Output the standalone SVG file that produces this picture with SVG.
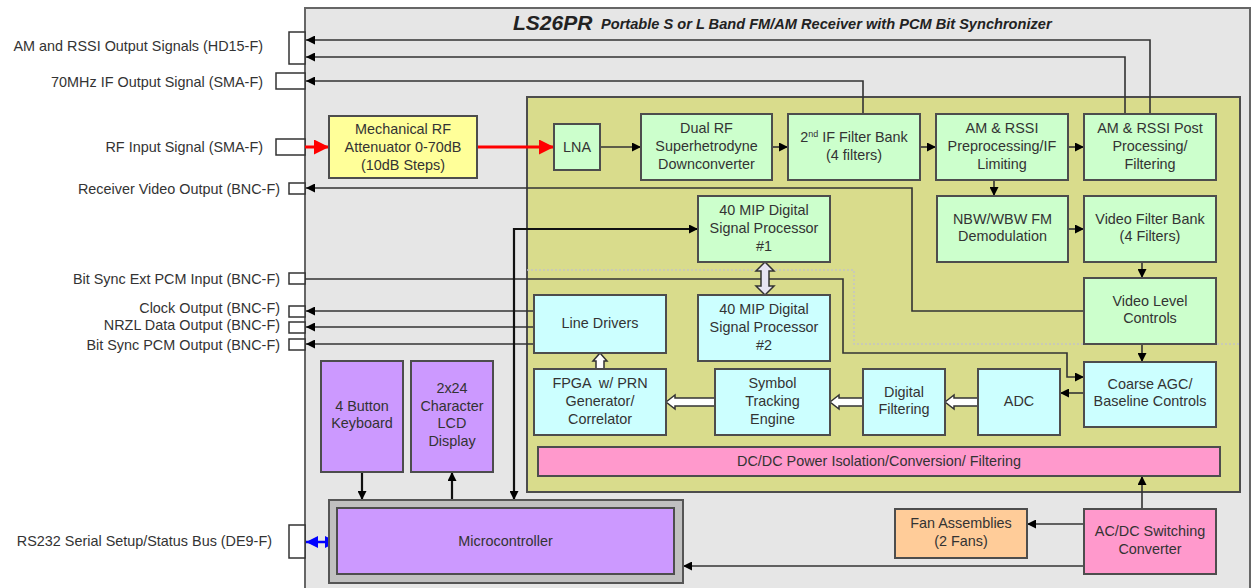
<svg xmlns="http://www.w3.org/2000/svg" width="1254" height="588" viewBox="0 0 1254 588">
<defs>
<style>
text{font-family:"Liberation Sans",Arial,sans-serif;font-size:14.4px;fill:#333;}
.c{text-anchor:middle;}
.e{text-anchor:end;}
.box{stroke:#4d4d4d;stroke-width:2;}
.g{fill:#ccffcc;}
.cy{fill:#ccffff;}
.y{fill:#ffff99;}
.pk{fill:#ff99cc;}
.or{fill:#ffcc99;}
.pu{fill:#cc99ff;}
.con{fill:#fff;stroke:#333;stroke-width:1.5;}
.ln{fill:none;stroke:#333;stroke-width:1.6;}
.lk{fill:none;stroke:#111;stroke-width:2.2;}
.ba{stroke:#333;stroke-width:1.5;}
</style>
<marker id="ah" viewBox="0 0 10 10" refX="10" refY="5" markerWidth="10" markerHeight="9" markerUnits="userSpaceOnUse" orient="auto-start-reverse"><path d="M0,0 L10,5 L0,10 z" fill="#000"/></marker>
<marker id="ahr" viewBox="0 0 10 10" refX="10" refY="5" markerWidth="18" markerHeight="15" markerUnits="userSpaceOnUse" orient="auto-start-reverse"><path d="M0,0 L10,5 L0,10 z" fill="#ff0000"/></marker>
<marker id="ahb" viewBox="0 0 10 10" refX="10" refY="5" markerWidth="12" markerHeight="12" markerUnits="userSpaceOnUse" orient="auto-start-reverse"><path d="M0,0 L10,5 L0,10 z" fill="#0000ff"/></marker>
</defs>
<rect width="1254" height="588" fill="#fff"/>

<g id="chassis">
<rect x="305" y="8" width="945" height="584" fill="#e6e6e6" stroke="#666" stroke-width="2"/>
<text x="513" y="30" style="font-size:21px;font-weight:bold;font-style:italic;fill:#222">LS26PR</text>
<text x="601" y="29" style="font-size:14.6px;font-weight:bold;font-style:italic;fill:#222">Portable S or L Band FM/AM Receiver with PCM Bit Synchronizer</text>
</g>

<g id="receiver-board">
<rect x="527" y="97" width="713" height="395" fill="#d9dc8c" stroke="#4d4d4d" stroke-width="2"/>
<path d="M527,270 H854 V344 H1240" fill="none" stroke="#c4c4c4" stroke-width="1.5" stroke-dasharray="2 2"/>
</g>

<g id="ports">
<rect class="con" x="289" y="32" width="16" height="32"/>
<text class="e" x="263" y="51">AM and RSSI Output Signals (HD15-F)</text>
<rect class="con" x="276" y="73" width="29" height="16"/>
<text class="e" x="263" y="87">70MHz IF Output Signal (SMA-F)</text>
<rect class="con" x="276" y="139" width="29" height="16"/>
<text class="e" x="263" y="152">RF Input Signal (SMA-F)</text>
<rect class="con" x="289" y="183" width="16" height="11"/>
<text class="e" x="280" y="194">Receiver Video Output (BNC-F)</text>
<rect class="con" x="289" y="273" width="16" height="11"/>
<text class="e" x="280" y="284">Bit Sync Ext PCM Input (BNC-F)</text>
<rect class="con" x="289" y="306" width="16" height="11"/>
<text class="e" x="280" y="313">Clock Output (BNC-F)</text>
<rect class="con" x="289" y="322" width="16" height="11"/>
<text class="e" x="280" y="330">NRZL Data Output (BNC-F)</text>
<rect class="con" x="289" y="339" width="16" height="11"/>
<text class="e" x="280" y="350">Bit Sync PCM Output (BNC-F)</text>
<rect class="con" x="289" y="525" width="16" height="33"/>
<text class="e" x="272" y="546">RS232 Serial Setup/Status Bus (DE9-F)</text>
</g>

<g id="connectors">
<path class="ln" d="M1150,114 V40 H306" marker-end="url(#ah)"/>
<path class="ln" d="M1125,114 V57 H306" marker-end="url(#ah)"/>
<path class="ln" d="M863,114 V81 H306" marker-end="url(#ah)"/>
<path d="M305,147 H329" fill="none" stroke="#ff0000" stroke-width="3" marker-end="url(#ahr)"/>
<path d="M477,147 H554" fill="none" stroke="#ff0000" stroke-width="3" marker-end="url(#ahr)"/>
<path class="ln" d="M600,147 H641" marker-end="url(#ah)"/>
<path class="ln" d="M772,147 H788" marker-end="url(#ah)"/>
<path class="ln" d="M920,147 H936" marker-end="url(#ah)"/>
<path class="ln" d="M1068,147 H1084" marker-end="url(#ah)"/>
<path class="ln" d="M994,180 V196" marker-end="url(#ah)"/>
<path class="ln" d="M1068,229 H1084" marker-end="url(#ah)"/>
<path class="ln" d="M1142,262 V278" marker-end="url(#ah)"/>
<path class="ln" d="M1142,344 V362" marker-end="url(#ah)"/>
<path class="ln" d="M1084,311 H912 V188 H306" marker-end="url(#ah)"/>
<path class="ln" d="M305,279 H843 V353 H1067 V377 H1084" marker-end="url(#ah)"/>
<path class="ln" d="M1084,393 H1060" marker-end="url(#ah)"/>
<path class="ln" d="M534,311 H306" marker-end="url(#ah)"/>
<path class="ln" d="M534,327 H306" marker-end="url(#ah)"/>
<path class="ln" d="M534,344 H306" marker-end="url(#ah)"/>
<path class="lk" d="M514,500 V229 H698" marker-start="url(#ah)" marker-end="url(#ah)"/>
<path class="lk" d="M362,472 V500" marker-end="url(#ah)"/>
<path class="lk" d="M452,500 V472" marker-end="url(#ah)"/>
<path d="M306,542 H337" fill="none" stroke="#0000ff" stroke-width="2.5" marker-start="url(#ahb)" marker-end="url(#ahb)"/>
<path class="ln" d="M1084,524 H1027" marker-end="url(#ah)"/>
<path class="ln" d="M1142,509 V476" marker-end="url(#ah)"/>
<path class="ln" d="M1084,566 H683" marker-end="url(#ah)"/>
<polygon class="ba" fill="#fff" points="945,402 954,395 954,398 978,398 978,406 954,406 954,409"/>
<polygon class="ba" fill="#fff" points="830,402 839,395 839,398 863,398 863,406 839,406 839,409"/>
<polygon class="ba" fill="#fff" points="666,402 675,395 675,398 715,398 715,406 675,406 675,409"/>
<polygon class="ba" fill="#fff" points="600,353 607,361 604,361 604,369 596,369 596,361 593,361"/>
<polygon class="ba" fill="#e6e4f2" points="765,262 774,271 769,271 769,286 774,286 765,295 756,286 761,286 761,271 756,271"/>
</g>

<g id="attenuator">
<rect class="box y" x="329" y="116" width="148" height="62"/>
<text class="c" x="403" y="134">Mechanical RF</text>
<text class="c" x="403" y="152">Attenuator 0-70dB</text>
<text class="c" x="403" y="170">(10dB Steps)</text>
</g>
<g id="lna">
<rect class="box g" x="554" y="124" width="46" height="46"/>
<text class="c" x="577" y="152">LNA</text>
</g>
<g id="dual-rf">
<rect class="box g" x="641" y="114" width="131" height="66"/>
<text class="c" x="706.5" y="133">Dual RF</text>
<text class="c" x="706.5" y="151">Superhetrodyne</text>
<text class="c" x="706.5" y="169">Downconverter</text>
</g>
<g id="if-bank">
<rect class="box g" x="788" y="114" width="132" height="66"/>
<text class="c" x="854" y="142">2<tspan dy="-5" style="font-size:9px">nd</tspan><tspan dy="5"> IF Filter Bank</tspan></text>
<text class="c" x="854" y="160">(4 filters)</text>
</g>
<g id="am-rssi-pre">
<rect class="box g" x="936" y="114" width="132" height="66"/>
<text class="c" x="1002" y="133">AM &amp; RSSI</text>
<text class="c" x="1002" y="151">Preprocessing/IF</text>
<text class="c" x="1002" y="169">Limiting</text>
</g>
<g id="am-rssi-post">
<rect class="box g" x="1084" y="114" width="132" height="66"/>
<text class="c" x="1150" y="133">AM &amp; RSSI Post</text>
<text class="c" x="1150" y="151">Processing/</text>
<text class="c" x="1150" y="169">Filtering</text>
</g>
<g id="fm-demod">
<rect class="box g" x="937" y="196" width="131" height="66"/>
<text class="c" x="1002.5" y="224">NBW/WBW FM</text>
<text class="c" x="1002.5" y="241">Demodulation</text>
</g>
<g id="video-filter">
<rect class="box g" x="1084" y="196" width="132" height="66"/>
<text class="c" x="1150" y="224">Video Filter Bank</text>
<text class="c" x="1150" y="241">(4 Filters)</text>
</g>
<g id="video-level">
<rect class="box g" x="1084" y="278" width="132" height="66"/>
<text class="c" x="1150" y="306">Video Level</text>
<text class="c" x="1150" y="323">Controls</text>
</g>
<g id="dsp1">
<rect class="box g" x="698" y="196" width="132" height="66"/>
<text class="c" x="764" y="215">40 MIP Digital</text>
<text class="c" x="764" y="233">Signal Processor</text>
<text class="c" x="764" y="251">#1</text>
</g>
<g id="dsp2">
<rect class="box cy" x="698" y="295" width="132" height="66"/>
<text class="c" x="764" y="314">40 MIP Digital</text>
<text class="c" x="764" y="332">Signal Processor</text>
<text class="c" x="764" y="350">#2</text>
</g>
<g id="line-drivers">
<rect class="box cy" x="534" y="295" width="132" height="58"/>
<text class="c" x="600" y="328">Line Drivers</text>
</g>
<g id="coarse-agc">
<rect class="box cy" x="1084" y="362" width="132" height="65"/>
<text class="c" x="1150" y="389">Coarse AGC/</text>
<text class="c" x="1150" y="406">Baseline Controls</text>
</g>
<g id="adc">
<rect class="box cy" x="978" y="369" width="82" height="66"/>
<text class="c" x="1019" y="406">ADC</text>
</g>
<g id="digital-filtering">
<rect class="box cy" x="863" y="369" width="82" height="66"/>
<text class="c" x="904" y="397">Digital</text>
<text class="c" x="904" y="414">Filtering</text>
</g>
<g id="symbol-tracking">
<rect class="box cy" x="715" y="369" width="115" height="66"/>
<text class="c" x="772.5" y="388">Symbol</text>
<text class="c" x="772.5" y="406">Tracking</text>
<text class="c" x="772.5" y="424">Engine</text>
</g>
<g id="fpga">
<rect class="box cy" x="534" y="369" width="132" height="66"/>
<text class="c" x="600" y="388" xml:space="preserve">FPGA  w/ PRN</text>
<text class="c" x="600" y="406">Generator/</text>
<text class="c" x="600" y="424">Correlator</text>
</g>
<g id="dcdc">
<rect class="box pk" x="538" y="447" width="682" height="29"/>
<text class="c" x="879" y="466">DC/DC Power Isolation/Conversion/ Filtering</text>
</g>
<g id="fans">
<rect class="box or" x="895" y="509" width="132" height="49"/>
<text class="c" x="961" y="528">Fan Assemblies</text>
<text class="c" x="961" y="546">(2 Fans)</text>
</g>
<g id="acdc">
<rect class="box pk" x="1084" y="509" width="132" height="65"/>
<text class="c" x="1150" y="536">AC/DC Switching</text>
<text class="c" x="1150" y="554">Converter</text>
</g>
<g id="keyboard">
<rect class="box pu" x="321" y="361" width="82" height="111"/>
<text class="c" x="362" y="411">4 Button</text>
<text class="c" x="362" y="428">Keyboard</text>
</g>
<g id="lcd">
<rect class="box pu" x="411" y="361" width="82" height="111"/>
<text class="c" x="452" y="393">2x24</text>
<text class="c" x="452" y="411">Character</text>
<text class="c" x="452" y="428">LCD</text>
<text class="c" x="452" y="446">Display</text>
</g>
<g id="microcontroller">
<rect x="329" y="500" width="354" height="83" fill="#c0c0c0" stroke="#555" stroke-width="2"/>
<rect class="box pu" x="337" y="508" width="337" height="66"/>
<text class="c" x="505.5" y="546">Microcontroller</text>
</g>
</svg>
